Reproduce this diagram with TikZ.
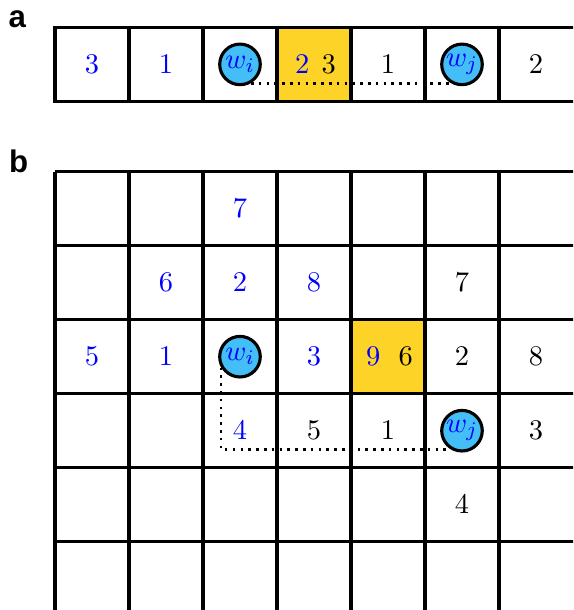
\documentclass[tikz,border=0pt,11pt]{standalone}
\usepackage{fontspec}
\newfontfamily\panelfont{Liberation Sans}
\usetikzlibrary{calc}
\definecolor{cellgold}{RGB}{253,211,40}
\definecolor{walker}{RGB}{68,190,246}

\begin{document}
\begin{tikzpicture}[
  cell/.style={line width=1.2pt},
  walk/.style={circle,draw,line width=1.2pt,fill=walker,minimum size=15.6pt,inner sep=0pt,text=blue},
  hop/.style={dotted,line width=1pt},
  panel/.style={font=\panelfont\bfseries\large}]
\useasboundingbox (-0.743,-8.243) rectangle (7.0,0);
\clip (-0.743,-8.243) rectangle (7.0,0);

% panel a
\node[panel] (la) at (-0.51,-0.26) {a};
\fill[cellgold] (3,-1.37) rectangle (4,-0.37);
\draw[cell] (0,-1.37) rectangle (7.5,-0.37);
\foreach \x in {1,...,6} \draw[cell] (\x,-1.37) -- (\x,-0.37);
\node[text=blue] (a0) at (0.5,-0.87) {$3$};
\node[text=blue] (a1) at (1.5,-0.87) {$1$};
\node[walk] (wia) at (2.5,-0.87) {$w_i$};
\node[text=blue] (a3) at (3.34,-0.87) {$2$};
\node (a3b) at (3.70,-0.87) {$3$};
\node (a4) at (4.5,-0.87) {$1$};
\node[walk] (wja) at (5.5,-0.87) {$w_j$};
\node (a6) at (6.5,-0.87) {$2$};
\draw[hop] (wia.-60) -- (wja.-120);

% panel b
\node[panel] (lb) at (-0.49,-2.18) {b};
\fill[cellgold] (4,-5.32) rectangle (5,-4.32);
\foreach \y in {0,...,6} \draw[cell] (0,-2.32-\y) -- (7.5,-2.32-\y);
\foreach \x in {0,...,6} \draw[cell] (\x,-2.32) -- (\x,-8.6);
\node[text=blue] (b02) at (2.5,-2.82) {$7$};
\node[text=blue] (b11) at (1.5,-3.82) {$6$};
\node[text=blue] (b12) at (2.5,-3.82) {$2$};
\node[text=blue] (b13) at (3.5,-3.82) {$8$};
\node (b15) at (5.5,-3.82) {$7$};
\node[text=blue] (b20) at (0.5,-4.82) {$5$};
\node[text=blue] (b21) at (1.5,-4.82) {$1$};
\node[walk] (wib) at (2.5,-4.82) {$w_i$};
\node[text=blue] (b23) at (3.5,-4.82) {$3$};
\node[text=blue] (b24) at (4.30,-4.82) {$9$};
\node (b24b) at (4.74,-4.82) {$6$};
\node (b25) at (5.5,-4.82) {$2$};
\node (b26) at (6.5,-4.82) {$8$};
\node[text=blue] (b32) at (2.5,-5.82) {$4$};
\node (b33) at (3.5,-5.82) {$5$};
\node (b34) at (4.5,-5.82) {$1$};
\node[walk] (wjb) at (5.5,-5.82) {$w_j$};
\node (b36) at (6.5,-5.82) {$3$};
\node (b45) at (5.5,-6.82) {$4$};
\draw[hop] (wib.-150) |- (wjb.-120);
\end{tikzpicture}
\end{document}
